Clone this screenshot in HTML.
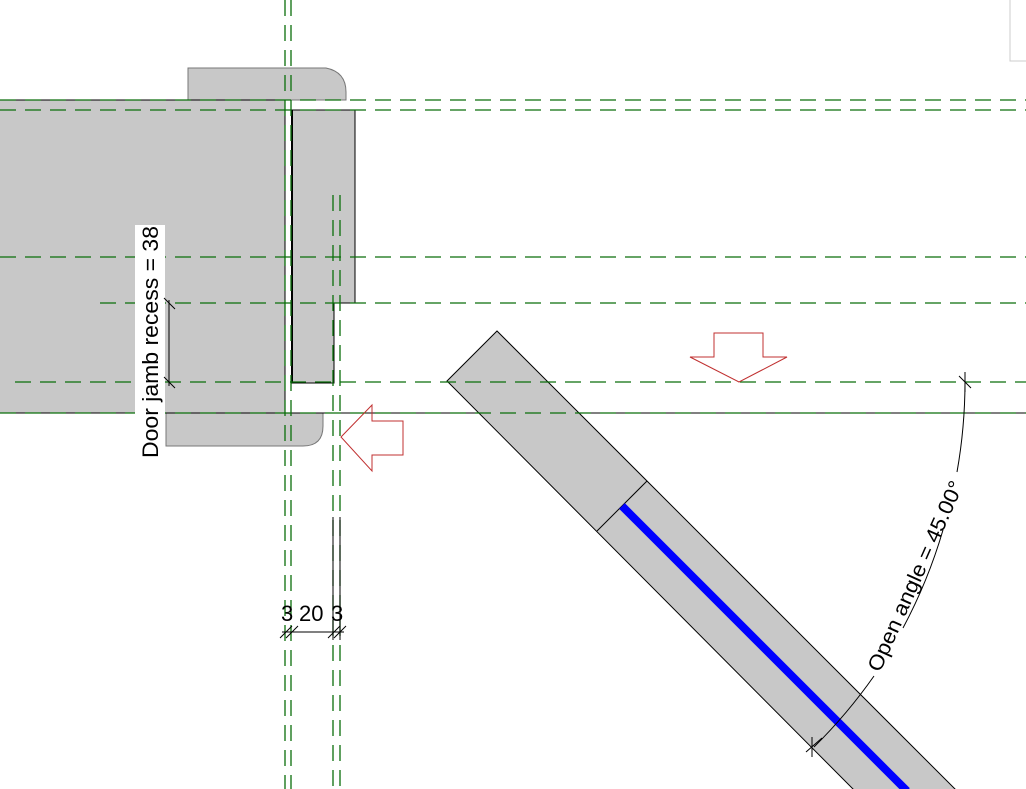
<!DOCTYPE html>
<html><head><style>body{margin:0;background:#fff}svg{display:block}</style></head>
<body>
<svg width="1026" height="789" viewBox="0 0 1026 789" xmlns="http://www.w3.org/2000/svg" font-family="Liberation Sans, sans-serif">
<rect x="1010" y="-1" width="20" height="62" fill="none" stroke="#ccc"/>
<path d="M188 68 H326 Q346 72 346 92 V100 H188 Z" fill="#c8c8c8" stroke="#777"/>
<path d="M166 413 H323 V426 Q323 446 303 446 H166 Z" fill="#c8c8c8" stroke="#777"/>
<rect x="0" y="100" width="285" height="313" fill="#c8c8c8"/>
<path d="M0 100 H285 V413" fill="none" stroke="#000"/>
<path d="M292 110 H355 V303 H334 V383 H292 Z" fill="#c8c8c8" stroke="#000"/>
<line x1="292" y1="110" x2="292" y2="383" stroke="#000" stroke-width="2"/>
<line x1="0" y1="413" x2="1026" y2="413" stroke="#000"/>
<polygon points="447,381 497,331 957,791 855,791" fill="#c8c8c8" stroke="#000"/>
<line x1="597" y1="531" x2="647" y2="481" stroke="#000"/>
<line x1="622" y1="506" x2="907" y2="791" stroke="#0000ff" stroke-width="8"/>
<g stroke="#0a6e0a" stroke-width="1.3" stroke-dasharray="16 9" fill="none">
<line x1="0" y1="100" x2="1026" y2="100"/>
<line x1="0" y1="110" x2="1026" y2="110"/>
<line x1="0" y1="257" x2="1026" y2="257"/>
<line x1="100" y1="303" x2="1026" y2="303"/>
<line x1="15" y1="382" x2="1026" y2="382"/>
<line x1="0" y1="413" x2="1026" y2="413"/>
<line x1="285" y1="0" x2="285" y2="789"/>
<line x1="291" y1="0" x2="291" y2="789"/>
<line x1="333" y1="195" x2="333" y2="789"/>
<line x1="340" y1="195" x2="340" y2="789"/>
</g>
<path d="M714 333 H763 V357 H787 L739 382 L690 357 H714 Z" fill="none" stroke="#c03030"/>
<path d="M341 437 L372 405 V421 H403 V455 H372 V471 Z" fill="none" stroke="#c03030"/>
<rect x="135" y="225" width="30" height="233" fill="#fff"/>
<text transform="translate(158,458) rotate(-90)" font-size="22" textLength="232" lengthAdjust="spacingAndGlyphs">Door jamb recess = 38</text>
<g stroke="#000">
<line x1="169" y1="300" x2="169" y2="386"/>
<line x1="164" y1="298" x2="175" y2="309"/><line x1="164" y1="377" x2="175" y2="388"/>
</g>
<g stroke="#000">
<line x1="333" y1="517" x2="333" y2="640"/><line x1="340" y1="517" x2="340" y2="640"/>
<line x1="282" y1="632" x2="344" y2="632"/>
<line x1="280" y1="638" x2="292" y2="626"/><line x1="286" y1="638" x2="298" y2="626"/>
<line x1="328" y1="638" x2="340" y2="626"/><line x1="334" y1="638" x2="346" y2="626"/>
</g>
<text x="281" y="621" font-size="22">3</text>
<text x="299" y="621" font-size="22">20</text>
<text x="331" y="621" font-size="22">3</text>
<g fill="none" stroke="#000">
<path d="M965 382 A516 516 0 0 1 957 472"/>
<path d="M943 530 A516 516 0 0 1 903 628"/>
<path d="M874 676 A516 516 0 0 1 814 747"/>
<line x1="959" y1="376" x2="971" y2="388"/><line x1="965" y1="372" x2="965" y2="392"/>
<line x1="806" y1="752" x2="822" y2="738"/><line x1="812" y1="737" x2="812" y2="757"/>
</g>
<text transform="translate(880,673) rotate(-66)" font-size="21" textLength="206" lengthAdjust="spacingAndGlyphs">Open angle = 45.00°</text>
</svg>
</body></html>
